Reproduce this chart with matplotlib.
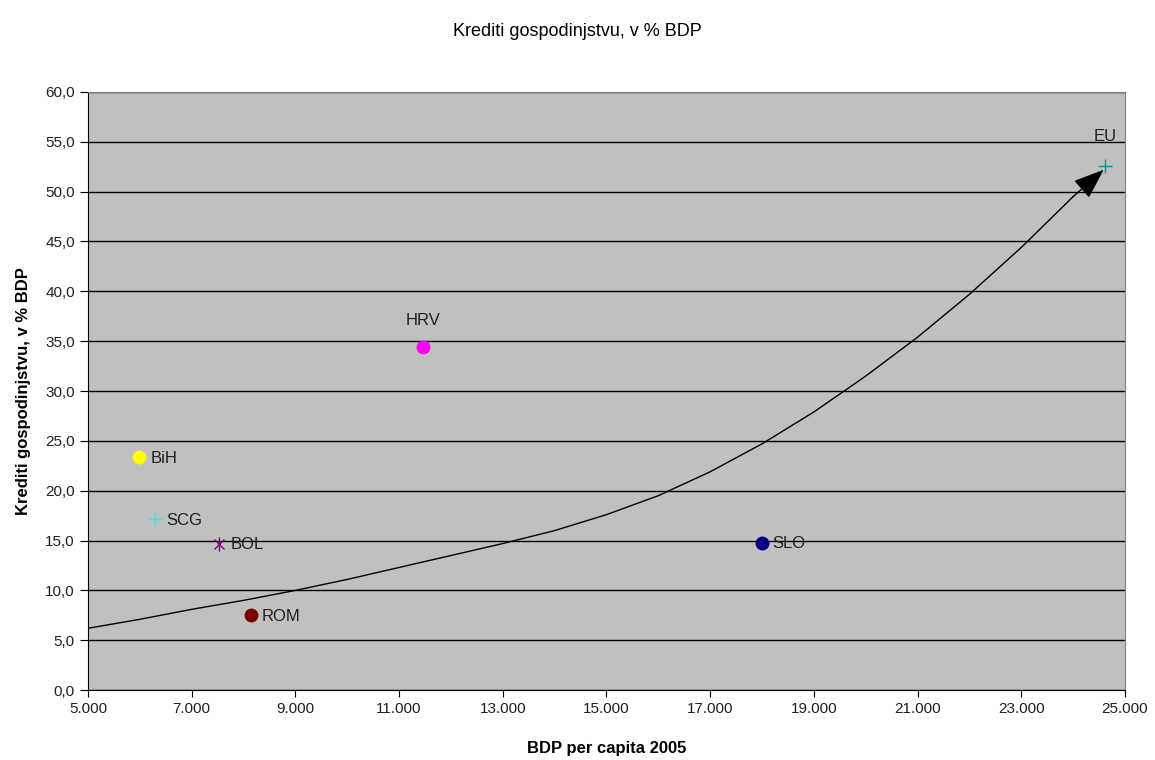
import matplotlib.pyplot as plt
from matplotlib.ticker import FuncFormatter

plt.rcParams['font.family'] = ['Liberation Sans', 'DejaVu Sans']

# Data
drzave = ['BiH', 'SCG', 'BOL', 'ROM', 'HRV', 'SLO', 'EU']
bdp = [5990, 6300, 7530, 8140, 11470, 17990, 24620]
krediti = [23.4, 17.2, 14.7, 7.5, 34.4, 14.8, 52.6]
barve = ['#FFFF00', '#00FFFF', '#800080', '#800000', '#FF00FF', '#000080', '#009999']
markerji = ['o', '+', '*', 'o', 'o', 'o', '+']

# hand-drawn arrow curve
krivulja_x = [5000, 6000, 7000, 8000, 9000, 10000, 11000, 12000, 13000, 14000, 15000,
              16000, 17000, 18000, 19000, 20000, 21000, 22000, 23000, 24000, 24590]
krivulja_y = [6.2, 7.1, 8.1, 9.0, 10.0, 11.1, 12.3, 13.5, 14.7, 16.0, 17.6,
              19.5, 21.9, 24.7, 27.9, 31.5, 35.4, 39.7, 44.4, 49.5, 52.2]

fig = plt.figure(figsize=(11.55, 7.6), dpi=100)
ax = fig.add_axes([0.0762, 0.092, 0.8978, 0.787])
ax.set_facecolor('#C0C0C0')

ax.plot(krivulja_x[:-1], krivulja_y[:-1], color='black', lw=1.0, zorder=2, solid_joinstyle='round')
ax.annotate('', xy=(krivulja_x[-1], krivulja_y[-1]), xytext=(krivulja_x[-2], krivulja_y[-2]),
            arrowprops=dict(arrowstyle='-|>,head_length=1.6,head_width=0.6', color='black', lw=1.0,
                            shrinkA=0, shrinkB=0, mutation_scale=12), zorder=3)

for d, x, y, c, m in zip(drzave, bdp, krediti, barve, markerji):
    if m == 'o':
        ax.plot(x, y, marker='o', color=c, ms=9, mec=c, ls='none', zorder=4)
    elif m == '+':
        ax.plot(x, y, marker='+', color=c, ms=10, mew=1.0, ls='none', zorder=4)
    else:
        ax.plot(x, y, marker='x', color=c, ms=7, mew=1.0, ls='none', zorder=4)
        ax.plot(x, y, marker='|', color=c, ms=10, mew=1.0, ls='none', zorder=4)
    if d == 'HRV':
        ax.annotate(d, (x, y), xytext=(0, 14), textcoords='offset points', ha='center',
                    va='bottom', fontsize=12, color='#202020')
    elif d == 'EU':
        ax.annotate(d, (x, y), xytext=(0, 16), textcoords='offset points', ha='center',
                    va='bottom', fontsize=12, color='#202020')
    else:
        ax.annotate(d, (x, y), xytext=(8, -1), textcoords='offset points', ha='left',
                    va='center', fontsize=12, color='#202020')

ax.set_xlim(5000, 25000)
ax.set_ylim(0, 60)
ax.set_xticks(range(5000, 25001, 2000))
ax.set_yticks(range(0, 61, 5))
ax.xaxis.set_major_formatter(FuncFormatter(lambda v, p: f'{int(v):,}'.replace(',', '.')))
ax.yaxis.set_major_formatter(FuncFormatter(lambda v, p: f'{v:.1f}'.replace('.', ',')))
ax.tick_params(labelsize=11, labelcolor='#202020', colors='black', length=5, direction='out')
ax.tick_params(axis='y', length=6)
ax.grid(axis='y', color='black', lw=1.0)
ax.set_axisbelow(True)
for s in ['top', 'right']:
    ax.spines[s].set_color('#808080')
for s in ['left', 'bottom']:
    ax.spines[s].set_color('black')

ax.set_xlabel('BDP per capita 2005', fontsize=12, fontweight='bold', labelpad=18)
ax.set_ylabel('Krediti gospodinjstvu, v % BDP', fontsize=12, fontweight='bold', labelpad=10)
fig.text(0.5, 0.958, 'Krediti gospodinjstvu, v % BDP', ha='center', va='center', fontsize=13)

fig.savefig('out.png', dpi=100)
